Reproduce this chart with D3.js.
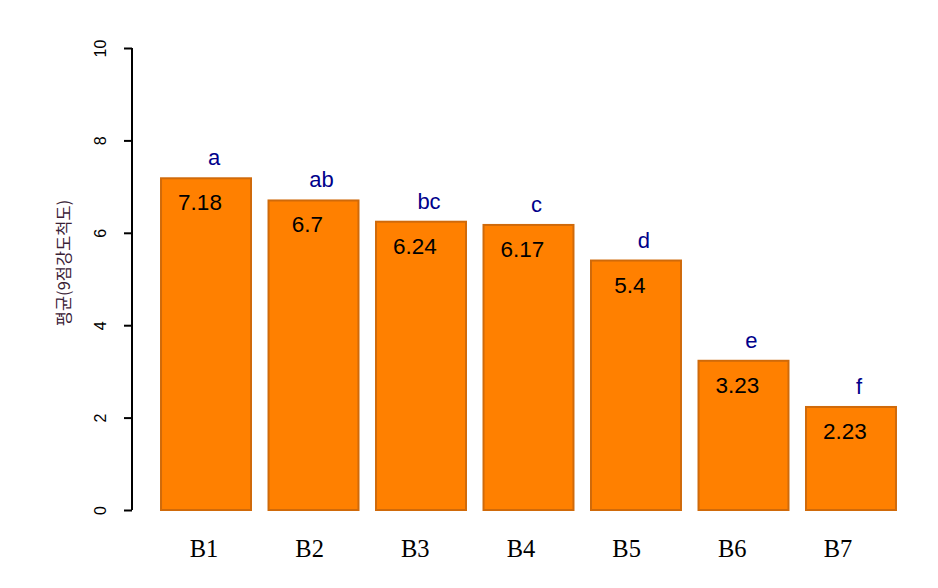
<!DOCTYPE html>
<html><head><meta charset="utf-8">
<script src="https://cdn.jsdelivr.net/npm/d3@7"></script>
<style>body{margin:0;background:#fff}</style>
</head><body>
<svg id="c" width="938" height="588"></svg>
<script>
const categories = ["B1","B2","B3","B4","B5","B6","B7"];
const means = [7.18, 6.7, 6.24, 6.17, 5.4, 3.23, 2.23];
const valueLabels = ["7.18","6.7","6.24","6.17","5.4","3.23","2.23"];
const groups = ["a","ab","bc","c","d","e","f"];
const yTicks = [0,2,4,6,8,10];
const yTitle = "평균(9점강도척도)";

const svg = d3.select("#c");
const x = d3.scaleBand().domain(categories).range([143.5, 913.5]).padding(0.163);
const xLab = d3.scalePoint().domain(categories).range([204, 838]);
const y = d3.scaleLinear().domain([0,10]).range([510, 48]);

// bars
svg.selectAll("rect.bar").data(categories).join("rect")
  .attr("x", d => x(d)).attr("width", x.bandwidth())
  .attr("y", (d,i) => y(means[i])).attr("height", (d,i) => y(0) - y(means[i]))
  .attr("fill", "#FF8000").attr("stroke", "#D06A0A").attr("stroke-width", 2);

// value labels
svg.selectAll("text.val").data(categories).join("text")
  .attr("x", d => x(d) + x.bandwidth()/2 - 6)
  .attr("y", (d,i) => y(means[i]) + 32)
  .attr("text-anchor","middle").attr("font-family","Liberation Sans, Arial, sans-serif")
  .attr("font-size", 22.5).attr("fill","#000")
  .text((d,i) => valueLabels[i]);

// group letters
svg.selectAll("text.grp").data(categories).join("text")
  .attr("x", d => x(d) + x.bandwidth()/2 + 8)
  .attr("y", (d,i) => y(means[i]) - 13)
  .attr("text-anchor","middle").attr("font-family","Liberation Sans, Arial, sans-serif")
  .attr("font-size", 22).attr("fill","#00008B")
  .text((d,i) => groups[i]);

// y axis
const ax = svg.append("g").attr("transform","translate(132,0)")
  .call(d3.axisLeft(y).tickValues(yTicks).tickSize(8).tickSizeOuter(0).tickPadding(0));
ax.select(".domain").attr("stroke","#000").attr("stroke-width",2).attr("d","M0,"+y(10)+"V"+y(0));
ax.selectAll(".tick line").attr("stroke","#000").attr("stroke-width",2);
ax.selectAll(".tick text")
  .attr("font-family","Liberation Sans, Arial, sans-serif").attr("font-size",16).attr("fill","#000")
  .attr("text-anchor","middle").attr("transform","translate(-32,0) rotate(-90)")
  .attr("x",0).attr("dy","0.35em");

// x labels
svg.selectAll("text.cat").data(categories).join("text")
  .attr("x", d => xLab(d))
  .attr("y", 557)
  .attr("text-anchor","middle").attr("font-family","Liberation Serif, Times New Roman, serif")
  .attr("font-size", 24.5).attr("fill","#000")
  .text(d => d);

// y title
svg.append("text").attr("transform","translate(70,263) rotate(-90)")
  .attr("text-anchor","middle").attr("font-family","Noto Sans CJK KR, sans-serif")
  .attr("font-size",16.5).attr("fill","#3a2236").text(yTitle);
</script>
</body></html>
